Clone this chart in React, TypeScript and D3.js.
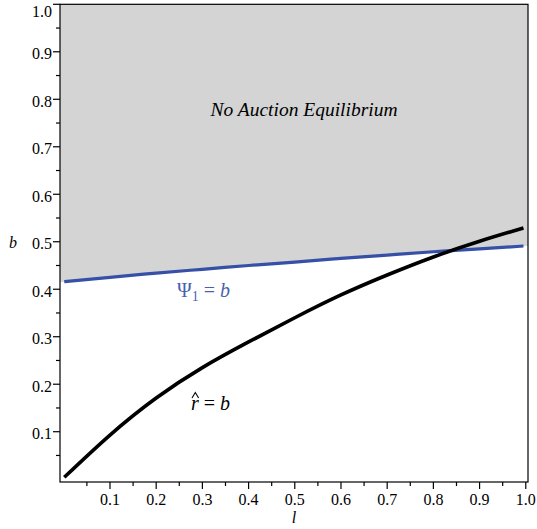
import React from "react";
import * as d3 from "d3";

const lValues = [0.001, 0.1, 0.2, 0.3, 0.4, 0.5, 0.6, 0.7, 0.8, 0.9, 0.995];
const rHatValues = [0.004, 0.093, 0.171, 0.235, 0.289, 0.340, 0.388, 0.430, 0.468, 0.501, 0.529];
const psiValues = [0.416, 0.425, 0.434, 0.442, 0.450, 0.457, 0.465, 0.472, 0.479, 0.485, 0.491];
const xTicks = [0.1, 0.2, 0.3, 0.4, 0.5, 0.6, 0.7, 0.8, 0.9, 1.0];
const yTicks = [0.1, 0.2, 0.3, 0.4, 0.5, 0.6, 0.7, 0.8, 0.9, 1.0];
const xMinor = [0.05, 0.15, 0.25, 0.35, 0.45, 0.55, 0.65, 0.75, 0.85, 0.95];
const yMinor = [0.05, 0.15, 0.25, 0.35, 0.45, 0.55, 0.65, 0.75, 0.85, 0.95];

const W = 537, H = 529;
const L = 60, R = 528, T = 4.3, B = 482;
const FONT = "'Liberation Serif', 'DejaVu Serif', serif";
const fs = { fontFamily: FONT };

export default function App() {
  const x = d3.scaleLinear().domain([-0.0082, 1.0048]).range([L, R]);
  const y = d3.scaleLinear().domain([-0.0059, 1.0]).range([B, T]);

  const line = d3
    .line<[number, number]>()
    .x((d) => x(d[0]))
    .y((d) => y(d[1]))
    .curve(d3.curveNatural);

  const rPts: [number, number][] = lValues.map((l, i) => [l, rHatValues[i]]);
  const psiPts: [number, number][] = lValues.map((l, i) => [l, psiValues[i]]);

  const ext: [number, number][] = [
    [x.domain()[0], psiValues[0] - 0.0008],
    ...psiPts,
    [x.domain()[1], psiValues[psiValues.length - 1] + 0.0001],
  ];
  const area = d3
    .area<[number, number]>()
    .x((d) => x(d[0]))
    .y0(() => y(1.0))
    .y1((d) => y(d[1]))
    .curve(d3.curveMonotoneX);

  return (
    <svg
      width={W}
      height={H}
      style={{ position: "absolute", left: 0, top: 0, background: "#fff" }}
    >
      <path d={area(ext) || ""} fill="#d4d4d4" />
      <path d={line(psiPts) || ""} fill="none" stroke="#3550a6" strokeWidth={3.2} />
      <path d={line(rPts) || ""} fill="none" stroke="#000" strokeWidth={3.6} />

      <rect x={L} y={T} width={R - L} height={B - T} fill="none" stroke="#000" strokeWidth={1.2} />

      {yTicks.map((t) => (
        <g key={"y" + t}>
          <line x1={L - 7} x2={L} y1={y(t)} y2={y(t)} stroke="#000" strokeWidth={1.2} />
          <text x={L - 8} y={t === 1.0 ? 16.7 : y(t) + 7.5} fontSize={16} textAnchor="end" style={fs}>
            {t.toFixed(1)}
          </text>
        </g>
      ))}
      {yMinor.map((t) => (
        <line key={"ym" + t} x1={L - 4} x2={L} y1={y(t)} y2={y(t)} stroke="#000" strokeWidth={1.2} />
      ))}
      {xTicks.map((t) => (
        <g key={"x" + t}>
          <line x1={x(t)} x2={x(t)} y1={B} y2={B + 7} stroke="#000" strokeWidth={1.2} />
          <text x={x(t)} y={505} fontSize={16} textAnchor="middle" style={fs}>
            {t.toFixed(1)}
          </text>
        </g>
      ))}
      {xMinor.map((t) => (
        <line key={"xm" + t} x1={x(t)} x2={x(t)} y1={B} y2={B + 4} stroke="#000" strokeWidth={1.2} />
      ))}

      <text x={13} y={248} fontSize={16} fontStyle="italic" textAnchor="middle" style={fs}>b</text>
      <text x={294} y={523} fontSize={16} fontStyle="italic" textAnchor="middle" style={fs}>l</text>

      <text x={304} y={116} fontSize={19.5} fontStyle="italic" textAnchor="middle" style={fs}>
        No Auction Equilibrium
      </text>

      <text x={177} y={297} fontSize={20} fill="#4a5fb0" style={fs}>
        <tspan>Ψ</tspan>
        <tspan fontSize={14} dy={4}>1</tspan>
        <tspan dy={-4} dx={5}>=</tspan>
        <tspan dx={5} fontStyle="italic">b</tspan>
      </text>

      <text x={191} y={410} fontSize={20} style={fs}>
        <tspan fontStyle="italic">r</tspan>
        <tspan dx={5}>=</tspan>
        <tspan dx={5} fontStyle="italic">b</tspan>
      </text>
      <path d="M192,398 L195.3,392.5 L198.6,398" fill="none" stroke="#000" strokeWidth={1.1} />
    </svg>
  );
}
